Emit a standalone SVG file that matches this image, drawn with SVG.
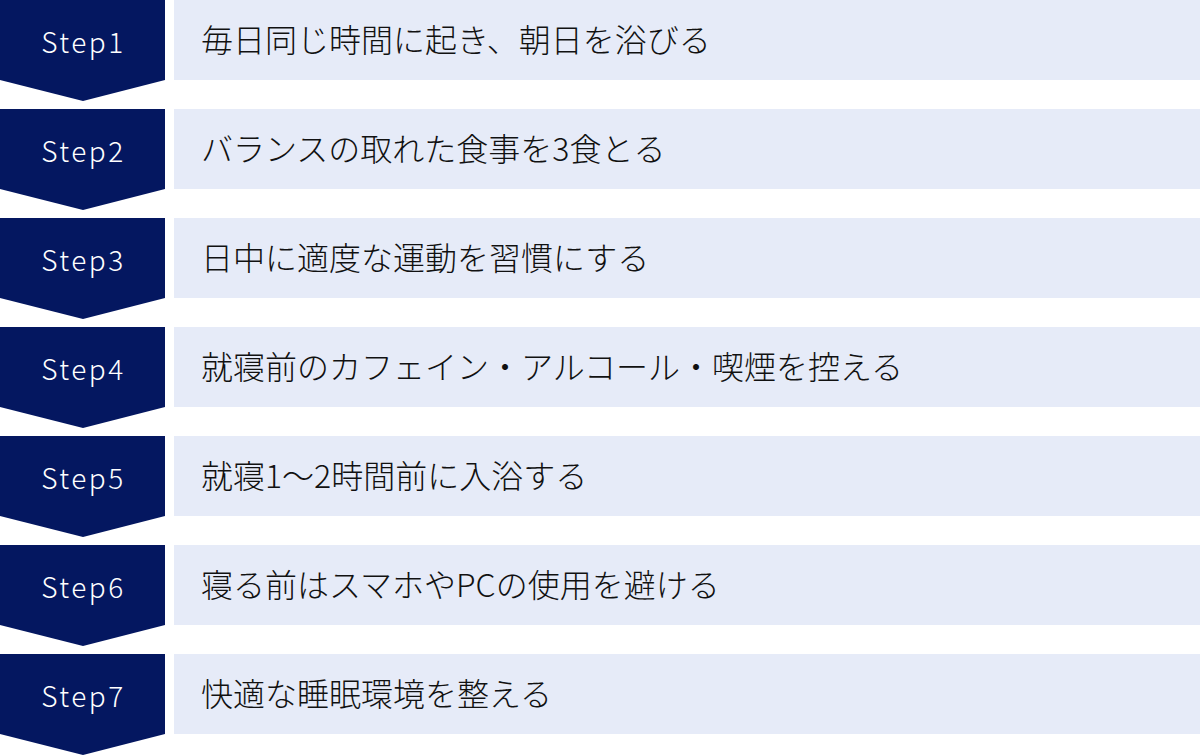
<svg xmlns="http://www.w3.org/2000/svg" width="1200" height="756" viewBox="0 0 1200 756">
<defs>
<style>
.badge{fill:#041760}
.box{fill:#E6EBF8}
.st{font-family:"Noto Sans CJK JP","Noto Sans",sans-serif;font-size:28px;font-weight:300;fill:#FFFFFF;text-anchor:middle;letter-spacing:2.5px}
.tx{font-family:"Noto Sans CJK JP",sans-serif;font-size:32px;font-weight:300;fill:#111111}
</style>
<path id="chev" d="M0 0H165V80L83 101L0 80Z"/>
</defs>
<rect width="1200" height="756" fill="#FFFFFF"/>
<g id="step1" transform="translate(0,0)">
<use href="#chev" class="badge"/><rect class="box" x="174" y="0" width="1026" height="80"/>
<text class="st" x="83.5" y="53">Step1</text><text class="tx" x="201" y="52">毎日同じ時間に起き、朝日を浴びる</text>
</g>
<g id="step2" transform="translate(0,109)">
<use href="#chev" class="badge"/><rect class="box" x="174" y="0" width="1026" height="80"/>
<text class="st" x="83.5" y="53">Step2</text><text class="tx" x="201" y="52">バランスの取れた食事を3食とる</text>
</g>
<g id="step3" transform="translate(0,218)">
<use href="#chev" class="badge"/><rect class="box" x="174" y="0" width="1026" height="80"/>
<text class="st" x="83.5" y="53">Step3</text><text class="tx" x="201" y="52">日中に適度な運動を習慣にする</text>
</g>
<g id="step4" transform="translate(0,327)">
<use href="#chev" class="badge"/><rect class="box" x="174" y="0" width="1026" height="80"/>
<text class="st" x="83.5" y="53">Step4</text><text class="tx" x="201" y="52">就寝前のカフェイン・アルコール・喫煙を控える</text>
</g>
<g id="step5" transform="translate(0,436)">
<use href="#chev" class="badge"/><rect class="box" x="174" y="0" width="1026" height="80"/>
<text class="st" x="83.5" y="53">Step5</text><text class="tx" x="201" y="52">就寝1〜2時間前に入浴する</text>
</g>
<g id="step6" transform="translate(0,545)">
<use href="#chev" class="badge"/><rect class="box" x="174" y="0" width="1026" height="80"/>
<text class="st" x="83.5" y="53">Step6</text><text class="tx" x="201" y="52">寝る前はスマホやPCの使用を避ける</text>
</g>
<g id="step7" transform="translate(0,654)">
<use href="#chev" class="badge"/><rect class="box" x="174" y="0" width="1026" height="80"/>
<text class="st" x="83.5" y="53">Step7</text><text class="tx" x="201" y="52">快適な睡眠環境を整える</text>
</g>
<g id="connectors"/>
</svg>
